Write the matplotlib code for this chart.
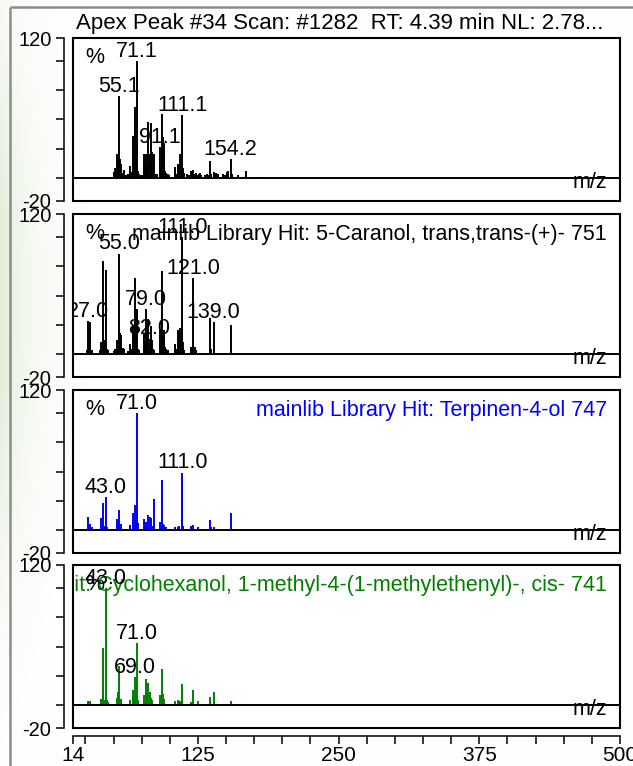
import numpy as np
import matplotlib
matplotlib.use("Agg")
import matplotlib.pyplot as plt
from matplotlib.patches import Rectangle
import matplotlib.transforms as mtransforms

plt.rcParams['font.family'] = ['Liberation Sans', 'DejaVu Sans']

# ---------------- data ----------------
title = "Apex Peak #34 Scan: #1282  RT: 4.39 min NL: 2.78..."

x_ticks = [14, 25, 50, 75, 100, 125, 150, 175, 200, 225, 250, 275, 300, 325,
           350, 375, 400, 425, 450, 475, 500]
x_tick_labels = ['14', '', '', '', '', '125', '', '', '', '', '250', '', '', '',
                 '', '375', '', '', '', '', '500']
y_ticks = [-20, 0, 25, 50, 75, 100, 120]
y_tick_labels = ['-20', '', '', '', '', '', '120']

# Panel 1: measured spectrum
mz1 = [50, 51, 52, 53, 54, 55, 56, 57, 58, 59, 60, 62, 63, 64, 65, 66, 67, 68, 69, 70,
       71, 72, 73, 74, 75, 77, 78, 79, 80, 81, 82, 83, 84, 85, 86, 87, 89, 91, 92, 93,
       94, 95, 96, 97, 98, 99, 105, 106, 107, 108, 109, 110, 111, 112, 113, 115, 117,
       119, 120, 121, 122, 123, 125, 126, 127, 128, 131, 133, 135, 136, 137, 139, 141,
       143, 147, 149, 151, 152, 154, 155, 161, 168, 182]
int1 = [5, 8, 4, 20, 17, 70, 16, 12, 4, 7, 2, 2, 3, 2, 10, 5, 36, 14, 61, 10,
        100, 6, 3, 2, 2, 20, 7, 20, 10, 48, 20, 47, 22, 10, 20, 3, 3, 26, 8, 55,
        35, 30, 6, 4, 3, 2, 9, 3, 12, 6, 20, 5, 54, 8, 4, 3, 2,
        6, 4, 7, 3, 4, 2, 3, 4, 2, 2, 3, 2, 14, 3, 5, 4,
        3, 3, 2, 5, 6, 16, 3, 2, 6, 1]
lab1_mz = [55, 71, 91, 111, 154]
lab1_txt = ['55.1', '71.1', '91.1', '111.1', '154.2']

# Panel 2: library hit 5-Caranol
mz2 = [26, 27, 28, 29, 31, 38, 39, 40, 41, 42, 43, 44, 45, 50, 51, 52, 53, 54, 55, 56,
       57, 58, 59, 63, 65, 66, 67, 68, 69, 70, 71, 72, 73, 77, 78, 79, 80, 81, 82, 83,
       84, 85, 86, 91, 92, 93, 94, 95, 96, 97, 98, 105, 106, 107, 108, 109, 110, 111,
       112, 113, 119, 120, 121, 122, 123, 136, 137, 139, 154]
int2 = [3, 28, 4, 27, 3, 3, 10, 3, 80, 12, 72, 4, 3, 2, 4, 3, 12, 6, 86, 18,
        16, 5, 4, 2, 8, 4, 25, 12, 65, 14, 38, 4, 3, 18, 8, 38, 12, 30, 13, 24,
        12, 4, 3, 20, 6, 71, 18, 20, 6, 4, 3, 8, 4, 20, 16, 22, 10, 100,
        10, 3, 6, 3, 65, 6, 3, 31, 4, 27, 25]
lab2_mz = [27, 55, 79, 82, 111, 121, 139]
lab2_txt = ['27.0', '55.0', '79.0', '82.0', '111.0', '121.0', '139.0']
hit2 = "mainlib Library Hit: 5-Caranol, trans,trans-(+)- 751"

# Panel 3: library hit Terpinen-4-ol
mz3 = [15, 27, 29, 31, 39, 41, 42, 43, 44, 53, 54, 55, 56, 57, 65, 67, 68, 69, 70, 71,
       72, 77, 78, 79, 81, 82, 83, 84, 86, 91, 92, 93, 94, 95, 97, 105, 107, 108, 111,
       112, 119, 121, 125, 136, 137, 139, 154]
int3 = [1, 11, 5, 2, 10, 23, 3, 28, 2, 9, 3, 17, 3, 5, 4, 14, 5, 21, 4, 100,
        6, 9, 3, 7, 13, 11, 10, 3, 26, 7, 3, 43, 5, 4, 2, 2, 2, 3, 49,
        3, 3, 4, 2, 8, 2, 2, 14]
lab3_mz = [43, 71, 111]
lab3_txt = ['43.0', '71.0', '111.0']
hit3 = "mainlib Library Hit: Terpinen-4-ol 747"

# Panel 4: library hit Cyclohexanol, 1-methyl-4-(1-methylethenyl)-, cis-
mz4 = [27, 29, 39, 41, 42, 43, 44, 45, 53, 54, 55, 56, 57, 65, 67, 68, 69, 70, 71, 72,
       77, 79, 80, 81, 82, 83, 84, 91, 93, 94, 95, 105, 107, 108, 109, 111, 119, 121,
       125, 136, 139, 154]
int4 = [3, 3, 5, 49, 4, 100, 4, 2, 6, 11, 33, 4, 5, 4, 13, 6, 24, 5, 53, 4,
        8, 22, 5, 19, 11, 6, 4, 8, 31, 9, 5, 3, 4, 3, 3, 18, 2, 13,
        3, 7, 11, 3]
lab4_mz = [43, 69, 71]
lab4_txt = ['43.0', '69.0', '71.0']
hit4 = "mainlib Library Hit: Cyclohexanol, 1-methyl-4-(1-methylethenyl)-, cis- 741"

panels = [
    dict(mz=mz1, inten=int1, color='black', lab_mz=lab1_mz, lab_txt=lab1_txt, hit=None),
    dict(mz=mz2, inten=int2, color='black', lab_mz=lab2_mz, lab_txt=lab2_txt, hit=hit2),
    dict(mz=mz3, inten=int3, color='#0000ff', lab_mz=lab3_mz, lab_txt=lab3_txt, hit=hit3),
    dict(mz=mz4, inten=int4, color='#008000', lab_mz=lab4_mz, lab_txt=lab4_txt, hit=hit4),
]

# ---------------- figure ----------------
W, H = 633, 766
fig = plt.figure(figsize=(W / 100, H / 100), dpi=100)

# background (pale green tint on the left, grey frame)
bg = fig.add_axes([0, 0, 1, 1], zorder=-10)
bg.set_xlim(0, W)
bg.set_ylim(H, 0)
bg.axis('off')
xx = np.arange(W)[None, :]
yy = np.arange(H)[:, None]
tint = np.exp(-xx / 30.0) * np.exp(-((yy - 300) / 260.0) ** 2)
base = np.ones((H, W, 3))
green = np.array([0.88, 0.93, 0.84])
img = base * (1 - tint[..., None]) + green * tint[..., None]
bg.imshow(img, extent=(0, W, H, 0), aspect='auto', interpolation='bilinear')
bg.plot([10, 10], [7, H], color='#8c8c8c', lw=1.8, solid_capstyle='butt')
bg.plot([10, W], [7, 7], color='#8c8c8c', lw=1.8, solid_capstyle='butt')

fig.text(340 / W, 1 - 23 / H, title, ha='center', va='center', fontsize=16)

left = 73 / W
width = 547 / W
ph = 163
tops = [38, 214, 390, 565]
FS = 15.5

for i, p in enumerate(panels):
    b = 1 - (tops[i] + ph) / H
    ax = fig.add_axes([left, b, width, ph / H])
    ax.set_xlim(14, 500)
    ax.set_ylim(-20, 120)
    ax.vlines(p['mz'], 0, p['inten'], color=p['color'], lw=1.4, zorder=2)
    ax.axhline(0, color='black', lw=1.4, zorder=3)
    for s in ['top', 'right', 'bottom']:
        ax.spines[s].set_visible(False)
    ax.spines['left'].set_position(('outward', 6.5))
    ax.spines['left'].set_linewidth(1.1)
    ax.add_patch(Rectangle((0, 0), 1, 1, transform=ax.transAxes, fill=False,
                           lw=1.5, ec='black', clip_on=False, zorder=6))
    ax.set_yticks(y_ticks)
    ax.set_yticklabels(y_tick_labels)
    ax.tick_params(axis='y', length=6, width=1.1, pad=3, labelsize=14.5)
    if i < 3:
        ax.set_xticks([])
    else:
        ax.spines['bottom'].set_visible(True)
        ax.spines['bottom'].set_position(('outward', 5.8))
        ax.spines['bottom'].set_linewidth(1.1)
        ax.set_xticks(x_ticks)
        ax.set_xticklabels(x_tick_labels)
        ax.tick_params(axis='x', length=5.5, width=1.1, pad=2, labelsize=15)

    trans = mtransforms.blended_transform_factory(ax.transAxes, ax.transData)
    ax.text(0.022, 103, '%', transform=trans, ha='left', va='center', fontsize=FS)
    ax.text(0.976, -9, 'm/z', transform=trans, ha='right', va='baseline', fontsize=FS)
    if p['hit']:
        ax.text(0.976, 102, p['hit'], transform=trans, ha='right', va='center',
                fontsize=FS, color=p['color'], clip_on=True)
    for lm, lt in zip(p['lab_mz'], p['lab_txt']):
        yv = p['inten'][p['mz'].index(lm)]
        ax.annotate(lt, (lm, yv), xytext=(0, 3), textcoords='offset points',
                    ha='center', va='baseline', fontsize=FS, clip_on=True,
                    annotation_clip=False, zorder=4)

fig.savefig('out.png', dpi=100)
